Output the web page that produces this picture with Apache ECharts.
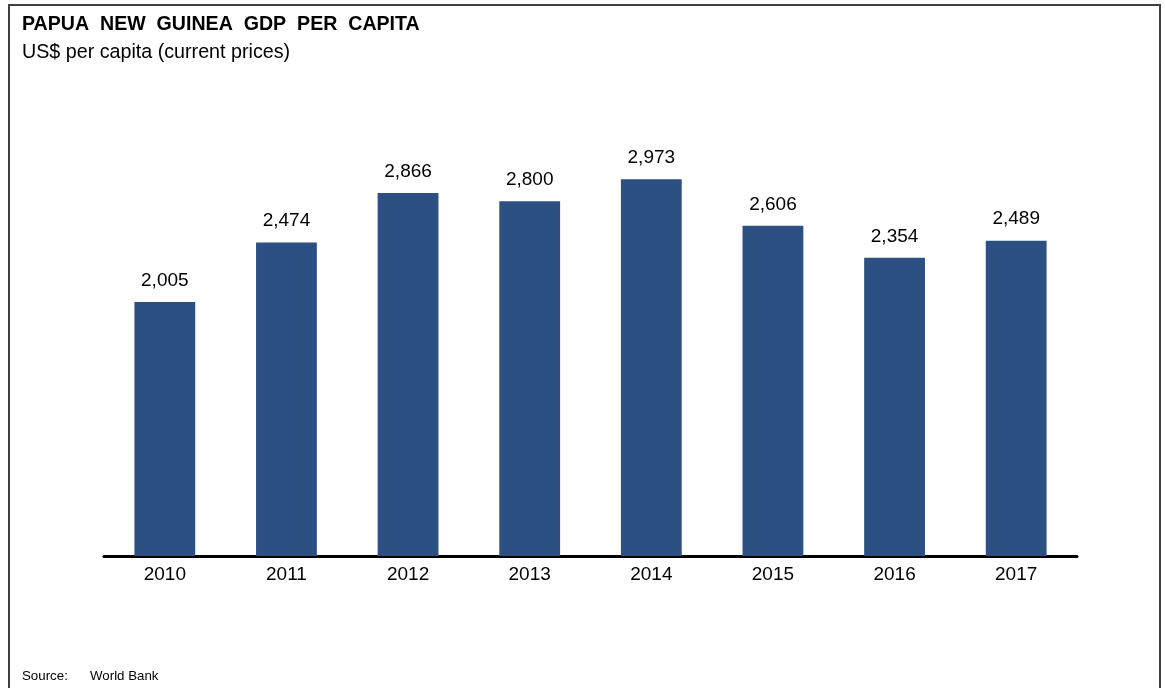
<!DOCTYPE html>
<html>
<head>
<meta charset="utf-8">
<script src="https://cdn.jsdelivr.net/npm/echarts@6/dist/echarts.min.js"></script>
<style>
html,body{margin:0;padding:0;background:#fff;}
#c{width:1165px;height:688px;}
</style>
</head>
<body>
<div id="c"></div>
<script>
const categories = ['2010','2011','2012','2013','2014','2015','2016','2017'];
const gdpPerCapita = [2005, 2474, 2866, 2800, 2973, 2606, 2354, 2489];
const titleText = 'PAPUA  NEW  GUINEA  GDP  PER  CAPITA';
const subtitleText = 'US$ per capita (current prices)';
const sourceLabel = 'Source:';
const sourceText = 'World Bank';

const chart = echarts.init(document.getElementById('c'));
const FONT = '"Liberation Sans", Arial, sans-serif';
chart.setOption({
  animation: false,
  backgroundColor: '#fff',
  textStyle: { fontFamily: FONT },
  graphic: [
    { type: 'rect', shape: { x: 9, y: 5, width: 1151, height: 700 },
      style: { fill: 'none', stroke: '#404040', lineWidth: 2 }, silent: true },
    { type: 'text', left: 22, top: 15,
      style: { text: titleText, font: 'bold 19.6px ' + FONT, fill: '#000' } },
    { type: 'text', left: 22, top: 43,
      style: { text: subtitleText, font: '19.7px ' + FONT, fill: '#000' } },
    { type: 'text', left: 22, top: 670,
      style: { text: sourceLabel, font: '13.3px ' + FONT, fill: '#000' } },
    { type: 'text', left: 90, top: 670,
      style: { text: sourceText, font: '13.3px ' + FONT, fill: '#000' } }
  ],
  grid: { left: 104, right: 88, top: 112.6, bottom: 132, containLabel: false },
  xAxis: {
    type: 'category',
    data: categories,
    axisLine: { show: true, lineStyle: { color: '#000', width: 3 } },
    axisTick: { show: false },
    axisLabel: { color: '#000', fontSize: 19, margin: 9, fontFamily: FONT }
  },
  yAxis: {
    type: 'value',
    min: 0, max: 3500,
    show: false
  },
  series: [{
    type: 'bar',
    data: gdpPerCapita,
    barWidth: '50%',
    itemStyle: { color: '#2D5082' },
    label: {
      show: true, position: 'top', distance: 12,
      color: '#000', fontSize: 19, fontFamily: FONT,
      formatter: p => p.value.toLocaleString('en-US')
    }
  }]
});
</script>
</body>
</html>
